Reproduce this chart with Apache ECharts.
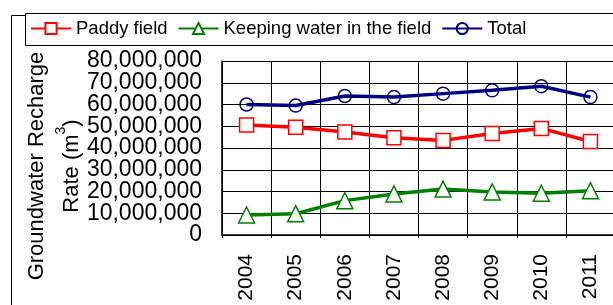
<!DOCTYPE html>
<html>
<head>
<meta charset="utf-8">
<script src="https://cdn.jsdelivr.net/npm/echarts@6/dist/echarts.min.js"></script>
<style>
  html, body { margin: 0; padding: 0; background: #fff; }
  #chart { width: 613px; height: 305px; }
</style>
</head>
<body>
<div id="chart"></div>
<script>
const years = ['2004', '2005', '2006', '2007', '2008', '2009', '2010', '2011']
const paddyField = [50600000, 49500000, 47400000, 44700000, 43500000, 46700000, 49000000, 43000000]
const keepingWater = [9200000, 9800000, 15800000, 18900000, 21100000, 19800000, 19200000, 20400000]
const total = [60000000, 59500000, 63900000, 63400000, 65000000, 66500000, 68400000, 63400000]

const yMin = 0
const yMax = 80000000
const yStep = 10000000

const font = 'Liberation Sans, Arial, sans-serif'

const chart = echarts.init(document.getElementById('chart'))

function fmt(v) {
  return v.toString().replace(/\B(?=(\d{3})+(?!\d))/g, ',')
}

const yLabel = {
  margin: 20,
  fontSize: 23,
  color: '#000',
  fontFamily: font,
  hideOverlap: false,
  formatter: fmt
}

const options = {
  animation: false,
  textStyle: { fontFamily: font, color: '#000' },
  // frame + legend box
  graphic: [
    {
      type: 'rect', left: 9, top: 13, z: -1,
      shape: { width: 640, height: 320 },
      style: { fill: 'none', stroke: '#000', lineWidth: 1 }
    },
    {
      type: 'rect', left: 25, top: 13,
      shape: { width: 620, height: 32 },
      style: { fill: '#fff', stroke: '#000', lineWidth: 1 }
    }
  ],
  legend: {
    left: 25,
    top: 14,
    padding: [5, 5],
    itemWidth: 40,
    itemHeight: 14,
    itemGap: 10,
    z: 10,
    textStyle: { fontSize: 18.5, fontFamily: font, color: '#000' },
    data: ['Paddy field', 'Keeping water in the field', 'Total']
  },
  grid: {
    left: 222,
    top: 61,
    width: 393,
    height: 174,
    containLabel: false,
    outerBoundsMode: 'none'
  },
  xAxis: {
    type: 'category',
    data: years,
    boundaryGap: true,
    axisLine: { lineStyle: { color: '#000', width: 1.5 } },
    axisTick: { show: true, length: 3, lineStyle: { color: '#000' } },
    splitLine: { show: true, lineStyle: { color: '#000', width: 1 } },
    axisLabel: {
      rotate: 90,
      margin: 19,
      fontSize: 21,
      color: '#000',
      fontFamily: font
    }
  },
  yAxis: [
    {
      type: 'value',
      min: yMin,
      max: yMax,
      interval: yStep,
      name: 'Groundwater Recharge\nRate (m{sup|3})',
      nameLocation: 'middle',
      nameGap: 133,
      nameRotate: 90,
      nameMoveOverlap: false,
      nameTextStyle: {
        fontSize: 22,
        lineHeight: 35,
        color: '#000',
        fontFamily: font,
        padding: [0, 36, 0, 0],
        rich: {
          sup: { fontSize: 14, verticalAlign: 'top', lineHeight: 35, padding: [0, 0, 10, 0], color: '#000', fontFamily: font }
        }
      },
      axisLine: { show: true, lineStyle: { color: '#000', width: 1.5 } },
      axisTick: { show: false },
      splitLine: { show: true, lineStyle: { color: '#000', width: 1 } },
      axisLabel: Object.assign({ showMinLabel: false, showMaxLabel: false }, yLabel)
    },
    {
      // only 0 and the top value, so the labels in between are not hidden
      type: 'value',
      position: 'left',
      min: yMin,
      max: yMax,
      interval: yMax - yMin,
      axisLine: { show: false },
      axisTick: { show: false },
      splitLine: { show: false },
      axisLabel: Object.assign({ showMinLabel: true, showMaxLabel: true }, yLabel)
    }
  ],
  series: [
    {
      name: 'Paddy field',
      type: 'line',
      data: paddyField,
      symbol: 'rect',
      symbolSize: 14,
      itemStyle: { color: '#fff', borderColor: '#ff0000', borderWidth: 1.5 },
      lineStyle: { color: '#ff0000', width: 3.5 },
      z: 3
    },
    {
      name: 'Keeping water in the field',
      type: 'line',
      data: keepingWater,
      symbol: 'triangle',
      symbolSize: 16,
      itemStyle: { color: '#fff', borderColor: '#008000', borderWidth: 1.5 },
      lineStyle: { color: '#008000', width: 3.5 },
      z: 3
    },
    {
      name: 'Total',
      type: 'line',
      data: total,
      symbol: 'circle',
      symbolSize: 13,
      itemStyle: { color: 'rgba(0,0,0,0)', borderColor: '#000080', borderWidth: 1.5 },
      lineStyle: { color: '#000080', width: 3.5 },
      z: 3
    }
  ]
}

chart.setOption(options)
</script>
</body>
</html>
